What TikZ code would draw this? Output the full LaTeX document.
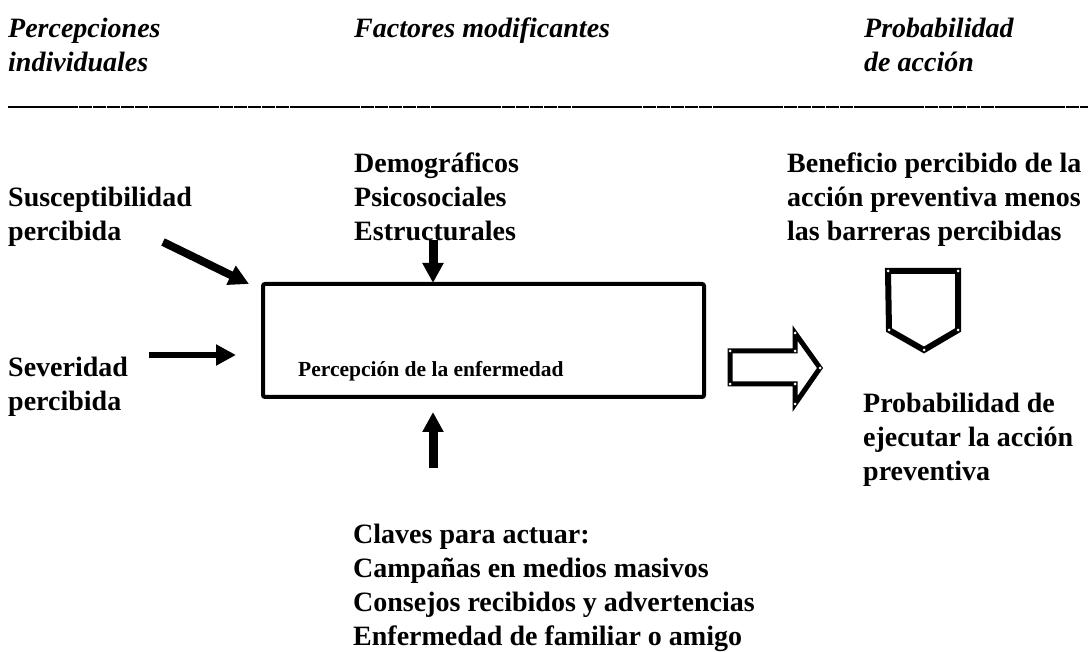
\documentclass[tikz,border=0pt]{standalone}
\usepackage{fontspec}
\setmainfont{Liberation Serif}
\usetikzlibrary{arrows.meta}
\tikzset{
  lbl/.style={anchor=north west, inner sep=0pt, align=left, font=\fontsize{28}{34}\selectfont\bfseries},
  hdr/.style={anchor=north west, inner sep=0pt, align=left, font=\fontsize{28}{34}\selectfont\bfseries\itshape},
  fatarrow/.style={line width=#1, -{Triangle[length=20pt,width=20pt]}},
  vtx/.style={circle, fill=white, inner sep=0pt, minimum size=3pt},
}
\begin{document}
\begin{tikzpicture}[x=1pt,y=-1pt]
\useasboundingbox (0,0) rectangle (1088,652);
% header
\node[hdr] (h1) at (8,18) {Percepciones\\individuales};
\node[hdr] (h2) at (354,18) {Factores modificantes};
\node[hdr] (h3) at (864,18) {Probabilidad\\de acción};
\draw[line width=2.2pt, dash pattern=on 13.5pt off 0.6pt] (8,107) -- (1088,107);
% labels
\node[lbl] (mod) at (354,153) {Demográficos\\Psicosociales\\Estructurales};
\node[lbl] (sus) at (8,187) {Susceptibilidad\\percibida};
\node[lbl] (ben) at (787,153) {Beneficio percibido de la\\acción preventiva menos\\las barreras percibidas};
\node[lbl] (sev) at (8,357) {Severidad\\percibida};
\node[lbl] (prob) at (863,393) {Probabilidad de\\ejecutar la acción\\preventiva};
\node[lbl] (cla) at (353,524) {Claves para actuar:\\Campañas en medios masivos\\Consejos recibidos y advertencias\\Enfermedad de familiar o amigo};
% central box
\draw[line width=4pt, rounded corners=2pt] (263,284) rectangle (704,397);
\node[anchor=base west, inner sep=0pt, font=\fontsize{21.5}{25}\selectfont\bfseries] (box) at (298,377) {Percepción de la enfermedad};
% arrows
\coordinate (dA) at (163,242); \coordinate (dB) at (249,284);
\coordinate (sA) at (149,355); \coordinate (sB) at (236,355);
\coordinate (tA) at (433,240); \coordinate (tB) at (433,283);
\coordinate (uA) at (433,468); \coordinate (uB) at (433,412);
\draw[fatarrow=8pt] (dA) -- (dB);
\draw[fatarrow=6pt] (sA) -- (sB);
\draw[fatarrow=9pt] (tA) -- (tB);
\draw[fatarrow=9pt] (uA) -- (uB);
% block arrow
\draw[line width=5pt, line join=miter, fill=white]
  (730,351) coordinate (b1) -- (795,351) coordinate (b2) -- (795,333) coordinate (b3)
  -- (820,368) coordinate (b4) -- (795,404) coordinate (b5) -- (795,384) coordinate (b6)
  -- (730,384) coordinate (b7) -- cycle;
\foreach \p in {b1,b2,b3,b4,b5,b6,b7} \node[vtx] at (\p) {};
% pentagon
\draw[line width=6pt, line join=miter]
  (888,271) coordinate (p1) -- (958,271) coordinate (p2) -- (958,330) coordinate (p3)
  -- (924,350) coordinate (p4) -- (889,330) coordinate (p5) -- cycle;
\foreach \p in {p1,p2,p3,p4,p5} \node[vtx] at (\p) {};
\end{tikzpicture}
\end{document}
